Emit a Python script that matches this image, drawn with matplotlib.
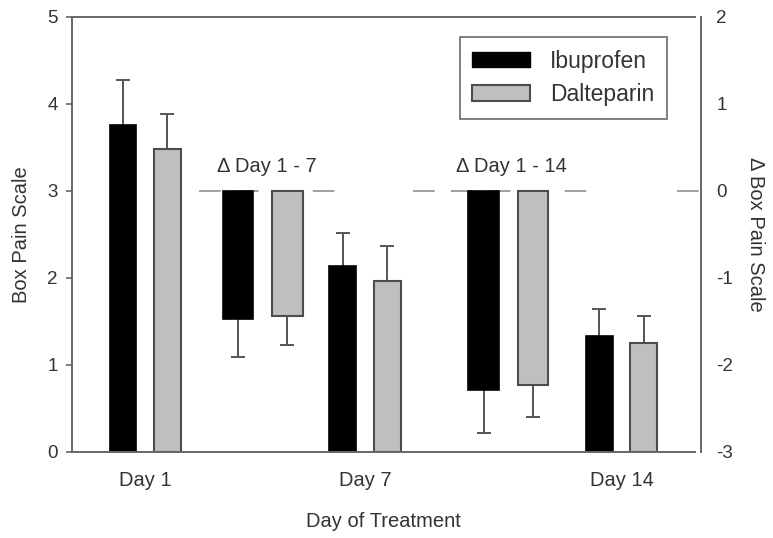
import matplotlib.pyplot as plt
from matplotlib.patches import Patch

plt.rcParams['font.family'] = ['Liberation Sans', 'DejaVu Sans']
plt.rcParams['axes.unicode_minus'] = False

# data
days = ['Day 1', 'Day 7', 'Day 14']
ibu_mean = [3.76, 2.14, 1.33]
ibu_err = [0.51, 0.37, 0.31]
dal_mean = [3.48, 1.96, 1.25]
dal_err = [0.40, 0.40, 0.31]

deltas = ['\u0394 Day 1 - 7', '\u0394 Day 1 - 14']
ibu_delta = [-1.47, -2.29]
ibu_delta_err = [0.44, 0.49]
dal_delta = [-1.44, -2.23]
dal_delta_err = [0.33, 0.37]

# layout (x positions of groups on a 0-10 scale)
day_pos = [1.17, 4.70, 8.82]
delta_pos = [3.06, 7.00]
day_off, day_w = 0.357, 0.43
delta_off, delta_w = 0.395, 0.49
dash_segments = [(2.03, 4.22), (5.47, 8.43), (9.71, 10.1)]

black = '#000000'
grey = '#bfbfbf'
edge_grey = '#4d4d4d'
err_col = '#555555'
txt = '#333333'

fig = plt.figure(figsize=(7.73, 5.38), dpi=100)
ax = fig.add_axes([0.0935, 0.1604, 0.8056, 0.8086])
ax2 = ax.twinx()

ax.set_xlim(0, 10)
ax.set_ylim(0, 5)
ax2.set_ylim(-3, 2)

# zero line for the change bars
for x0, x1 in dash_segments:
    ax2.plot([x0, x1], [0, 0], color='#999999', lw=1.3,
             dashes=(12, 9), zorder=1, clip_on=False)

ekw = dict(fmt='none', ecolor=err_col, elinewidth=1.4, capthick=1.4,
           capsize=4.8, zorder=1.5)

# day bars, left axis; error bars sit behind so only the upper half shows
x_ibu = [p - day_off for p in day_pos]
x_dal = [p + day_off for p in day_pos]
ax.errorbar(x_ibu, ibu_mean, yerr=ibu_err, **ekw)
ax.errorbar(x_dal, dal_mean, yerr=dal_err, **ekw)
ax.bar(x_ibu, ibu_mean, day_w, color=black, edgecolor=black, lw=1.2, zorder=2)
ax.bar(x_dal, dal_mean, day_w, color=grey, edgecolor=edge_grey, lw=1.5, zorder=2)

# change bars, right axis; only the lower half of the error shows
xd_ibu = [p - delta_off for p in delta_pos]
xd_dal = [p + delta_off for p in delta_pos]
ax2.errorbar(xd_ibu, ibu_delta, yerr=ibu_delta_err, **ekw)
ax2.errorbar(xd_dal, dal_delta, yerr=dal_delta_err, **ekw)
ax2.bar(xd_ibu, ibu_delta, delta_w, color=black, edgecolor=black, lw=1.2, zorder=2)
ax2.bar(xd_dal, dal_delta, delta_w, color=grey, edgecolor=edge_grey, lw=1.5, zorder=2)

for p, lab in zip(delta_pos, deltas):
    ax2.text(p + 0.06, 0.28, lab, ha='center', va='center', fontsize=14.5,
             color=txt)

# axes styling
ax.set_xticks(day_pos)
ax.set_xticklabels(days, fontsize=14.5, color=txt)
ax.tick_params(axis='x', length=0, pad=14)
ax.set_yticks([0, 1, 2, 3, 4, 5])
ax.tick_params(axis='y', direction='out', length=4.5, width=1.2,
               color='#666666', labelsize=13.5, labelcolor=txt, pad=6)
for s in ['left', 'bottom', 'top']:
    ax.spines[s].set_color('#666666')
    ax.spines[s].set_linewidth(1.4)
ax.spines['right'].set_visible(False)
ax.set_xlabel('Day of Treatment', fontsize=14.5, color=txt, labelpad=16)
ax.set_ylabel('Box Pain Scale', fontsize=14.5, color=txt, labelpad=12)

ax2.set_yticks([-3, -2, -1, 0, 1, 2])
ax2.tick_params(axis='y', length=0, labelsize=13.5, labelcolor=txt, pad=11)
for s in ['left', 'bottom', 'top']:
    ax2.spines[s].set_visible(False)
ax2.spines['right'].set_position(('outward', 4.3))
ax2.spines['right'].set_color('#666666')
ax2.spines['right'].set_linewidth(1.4)
ax2.set_ylabel('\u0394 Box Pain Scale', fontsize=14.5, color=txt,
               rotation=270, labelpad=23)

handles = [Patch(facecolor=black, edgecolor=black, label='Ibuprofen'),
           Patch(facecolor=grey, edgecolor=edge_grey, lw=1.5, label='Dalteparin')]
leg = ax2.legend(handles=handles, loc='upper right',
                 bbox_to_anchor=(0.955, 0.953), borderaxespad=0,
                 fontsize=16.5, fancybox=False, edgecolor='#444444',
                 handlelength=2.5, handleheight=0.65, handletextpad=0.9,
                 borderpad=0.55, labelspacing=0.45, labelcolor=txt)
leg.get_frame().set_linewidth(1.2)

fig.savefig('out.png', dpi=100)
